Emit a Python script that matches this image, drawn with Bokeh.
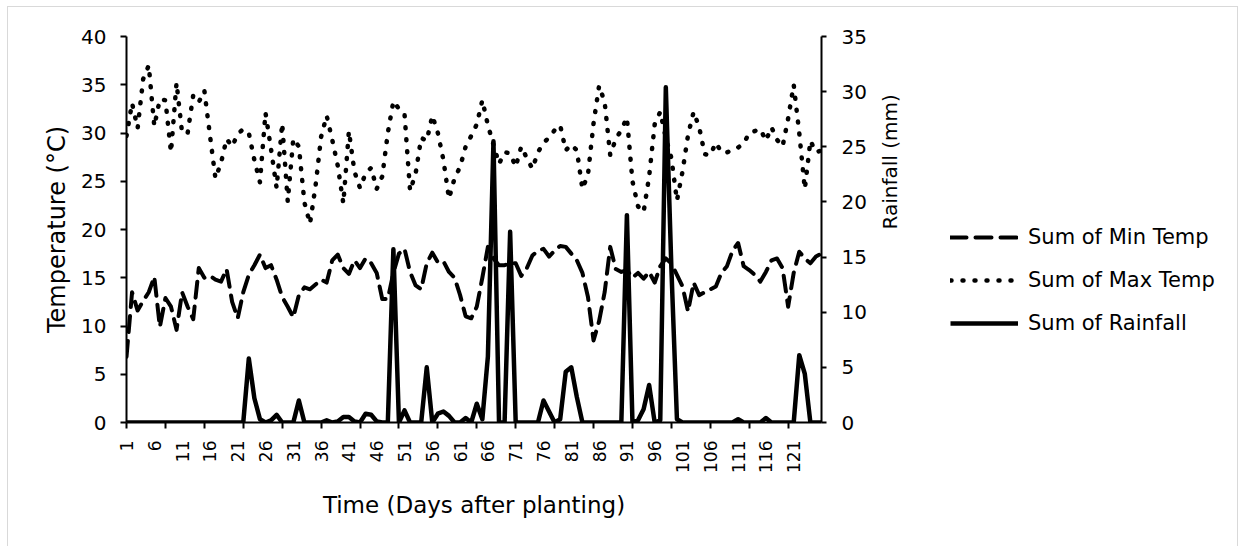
import math
from bokeh.plotting import figure
from bokeh.layouts import row
from bokeh.models import (Range1d, LinearAxis, FixedTicker, Legend, LegendItem,
                          ColumnDataSource)
from bokeh.embed import file_html
from bokeh.resources import INLINE

# ---------------- data ----------------
days = list(range(1, 127))

min_temp = [
    6.8, 13.5, 11.6, 12.6, 13.5, 15.1, 9.9, 12.9, 12.0, 9.6,
    13.5, 12.0, 10.7, 16.0, 15.0, 15.2, 14.8, 14.6, 15.9, 12.5,
    10.8, 13.5, 15.3, 16.3, 17.4, 16.0, 16.3, 14.8, 13.0, 12.0,
    10.9, 13.2, 14.0, 13.8, 14.3, 14.8, 14.5, 16.8, 17.4, 16.0,
    15.4, 16.8, 16.0, 17.0, 16.5, 15.5, 12.8, 12.8, 15.5, 17.5,
    18.0, 15.6, 14.2, 13.8, 16.5, 17.6, 16.6, 16.7, 15.6, 15.0,
    13.2, 11.0, 10.8, 12.0, 15.0, 18.2, 17.0, 16.3, 16.3, 16.5,
    16.5, 15.2, 16.0, 17.3, 17.8, 18.0, 17.2, 17.8, 18.3, 18.2,
    17.5, 16.8, 15.5, 13.0, 8.5, 10.5, 13.5, 18.2, 15.9, 15.6,
    15.8, 15.0, 15.5, 14.9, 15.6, 14.5, 16.2, 17.0, 16.5, 15.3,
    14.1, 11.5, 14.5, 13.2, 13.5, 13.8, 14.1, 15.5, 16.2, 17.8,
    18.6, 16.2, 15.8, 15.3, 14.6, 15.6, 16.8, 17.0, 16.0, 12.0,
    15.5, 17.7, 17.0, 16.5, 17.2, 17.5,
]

max_temp = [
    29.7, 33.1, 30.5, 35.6, 37.0, 30.7, 33.5, 33.4, 28.0, 35.2,
    30.0, 30.0, 33.9, 33.2, 34.4, 29.8, 25.3, 26.9, 29.4, 28.6,
    29.9, 30.4, 30.0, 27.2, 24.9, 32.1, 28.3, 24.3, 31.0, 22.9,
    29.4, 28.6, 22.8, 20.6, 24.5, 29.6, 31.8, 29.3, 26.6, 22.7,
    30.2, 26.0, 24.3, 25.8, 26.4, 24.2, 25.5, 30.0, 33.3, 32.5,
    32.0, 24.0, 25.8, 29.5, 29.2, 31.8, 30.0, 27.2, 23.2, 25.3,
    26.5, 28.6, 29.7, 30.9, 33.4, 30.8, 28.8, 26.8, 28.0, 27.9,
    26.5, 28.6, 27.4, 26.3, 28.0, 29.0, 29.5, 30.3, 30.8, 28.2,
    28.8, 28.2, 24.2, 25.7, 31.0, 34.9, 33.2, 27.7, 29.4, 30.3,
    31.6, 25.0, 22.4, 21.8, 25.5, 30.9, 32.2, 29.5, 27.4, 23.0,
    26.0, 29.8, 32.2, 30.6, 27.8, 27.7, 29.0, 28.0, 28.0, 28.2,
    28.5, 28.9, 30.0, 30.2, 30.4, 29.2, 30.6, 29.3, 28.6, 31.5,
    35.0, 30.0, 24.2, 29.2, 28.0, 28.2,
]

rainfall = [
    0, 0, 0, 0, 0, 0, 0, 0, 0, 0,
    0, 0, 0, 0, 0, 0, 0, 0, 0, 0,
    0, 0, 5.8, 2.2, 0.3, 0, 0.2, 0.7, 0, 0,
    0, 2.0, 0, 0, 0, 0, 0.2, 0, 0.1, 0.5,
    0.5, 0.1, 0, 0.8, 0.7, 0.1, 0, 0, 15.7, 0,
    1.1, 0, 0, 0, 5.0, 0, 0.8, 1.0, 0.6, 0,
    0, 0.4, 0, 1.7, 0.3, 6.0, 25.5, 0, 0, 17.3,
    0, 0, 0, 0, 0, 2.0, 1.0, 0, 0.3, 4.6,
    5.0, 2.3, 0, 0, 0, 0, 0, 0, 0, 0,
    18.8, 0, 0.2, 1.2, 3.4, 0, 0.2, 30.4, 14.0, 0.3,
    0, 0, 0, 0, 0, 0, 0, 0, 0, 0,
    0.3, 0, 0, 0, 0, 0.4, 0, 0, 0, 0,
    0, 6.1, 4.4, 0, 0, 0,
]

label_days = [1, 6, 11, 16, 21, 26, 31, 36, 41, 46, 51, 56, 61, 66, 71, 76,
              81, 86, 91, 96, 101, 106, 111, 116, 121]
tick_days = [1, 8, 15, 22, 29, 36, 43, 50, 57, 64, 71, 78, 85, 92, 99, 106,
             113, 120]
temp_ticks = [0, 5, 10, 15, 20, 25, 30, 35, 40]
rain_ticks = [0, 5, 10, 15, 20, 25, 30, 35]

series_labels = ["Sum of Min Temp", "Sum of Max Temp", "Sum of Rainfall"]

FONT = "DejaVu Sans"
MIN_STYLE = dict(line_color="black", line_width=4, line_dash="16 9",
                 line_cap="round", line_join="round")
MAX_STYLE = dict(line_color="black", line_width=4.5, line_dash="1 11",
                 line_cap="round", line_join="round")
RAIN_STYLE = dict(line_color="black", line_width=4.5, line_join="round")

# ---------------- main figure ----------------
p = figure(width=922, height=539, output_backend="svg", toolbar_location=None,
           x_range=Range1d(1, 126), y_range=Range1d(0, 40),
           min_border_left=118, min_border_right=109,
           min_border_top=29, min_border_bottom=124)
p.extra_y_ranges = {"rain": Range1d(0, 35)}
p.xgrid.visible = False
p.ygrid.visible = False
p.outline_line_color = None
p.background_fill_color = "white"
p.border_fill_color = "white"

src = ColumnDataSource(dict(day=days, tmin=min_temp, tmax=max_temp, rain=rainfall))

p.line("day", "tmin", source=src, **MIN_STYLE)
p.line("day", "tmax", source=src, **MAX_STYLE)
p.line("day", "rain", source=src, y_range_name="rain", **RAIN_STYLE)

def style_axis(ax, label_size):
    ax.axis_line_color = "black"
    ax.axis_line_width = 2
    ax.major_tick_line_color = "black"
    ax.major_tick_line_width = 2
    ax.major_label_text_font = FONT
    ax.major_label_text_font_size = label_size
    ax.major_label_text_color = "black"
    ax.axis_label_text_font = FONT
    ax.axis_label_text_font_style = "normal"
    ax.axis_label_text_color = "black"

xa = p.xaxis[0]
style_axis(xa, "17px")
xa.ticker = FixedTicker(ticks=label_days, minor_ticks=tick_days)
xa.major_tick_out = 0
xa.major_tick_in = 0
xa.major_tick_line_color = None
xa.minor_tick_out = 6
xa.minor_tick_in = 0
xa.minor_tick_line_color = "black"
xa.minor_tick_line_width = 2
xa.major_label_orientation = math.pi / 2
xa.major_label_standoff = 12
xa.axis_label = "Time (Days after planting)"
xa.axis_label_text_font_size = "23px"
xa.axis_label_standoff = 16

ya = p.yaxis[0]
style_axis(ya, "20px")
ya.ticker = FixedTicker(ticks=temp_ticks)
ya.major_tick_out = 6
ya.major_tick_in = 0
ya.minor_tick_line_color = None
ya.major_label_standoff = 14
ya.axis_label = "Temperature (°C)"
ya.axis_label_text_font_size = "24px"
ya.axis_label_standoff = 7

ra = LinearAxis(y_range_name="rain", ticker=FixedTicker(ticks=rain_ticks))
style_axis(ra, "20px")
ra.major_tick_out = 5
ra.major_tick_in = 0
ra.minor_tick_line_color = None
ra.major_label_standoff = 15
ra.axis_label = "Rainfall (mm)"
ra.axis_label_text_font_size = "20px"
ra.axis_label_standoff = 20
try:
    ra.axis_label_orientation = math.pi / 2
except Exception:
    pass
p.add_layout(ra, "right")

# ---------------- legend panel ----------------
pl = figure(width=307, height=539, output_backend="svg", toolbar_location=None,
            x_range=Range1d(0, 1), y_range=Range1d(0, 1),
            x_axis_location=None, y_axis_location=None,
            min_border_left=0, min_border_right=0,
            min_border_top=0, min_border_bottom=0)
pl.xgrid.visible = False
pl.ygrid.visible = False
pl.outline_line_color = None
pl.background_fill_color = "white"
pl.border_fill_color = "white"

d_min = pl.line(x=[-5, -4], y=[-5, -5], **MIN_STYLE)
d_max = pl.line(x=[-5, -4], y=[-5, -5], **MAX_STYLE)
d_rain = pl.line(x=[-5, -4], y=[-5, -5], **RAIN_STYLE)

legend = Legend(
    items=[LegendItem(label=series_labels[0], renderers=[d_min]),
           LegendItem(label=series_labels[1], renderers=[d_max]),
           LegendItem(label=series_labels[2], renderers=[d_rain])],
    location=(20, 87),
    orientation="vertical",
    label_text_font=FONT,
    label_text_font_size="21px",
    label_text_color="black",
    label_height=24,
    glyph_height=24,
    glyph_width=68,
    label_standoff=10,
    spacing=19,
    padding=0,
    margin=0,
    border_line_color=None,
    background_fill_alpha=0,
)
pl.add_layout(legend)

layout = row(p, pl, spacing=0)
layout.styles = {"margin-left": "7px", "margin-top": "6px",
                 "border-left": "1px solid #d9d9d9",
                 "border-top": "1px solid #d9d9d9",
                 "border-right": "1px solid #d9d9d9"}

open("out.html", "w").write(file_html(layout, INLINE))
